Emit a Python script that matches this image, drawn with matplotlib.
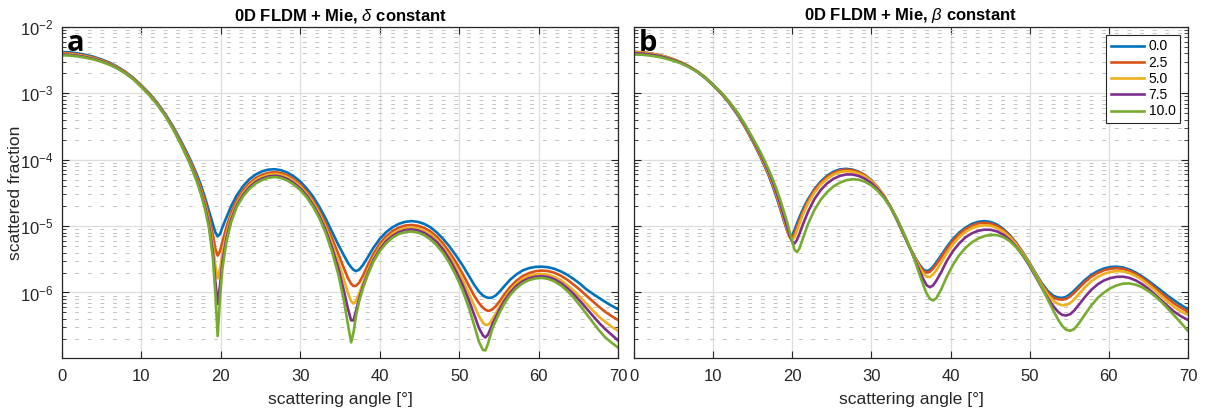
import matplotlib
matplotlib.use('Agg')
import matplotlib.pyplot as plt
from matplotlib.ticker import LogLocator, FixedLocator, LogFormatterMathtext, NullFormatter

plt.rcParams['font.family'] = ['Liberation Sans', 'DejaVu Sans']
plt.rcParams['mathtext.fontset'] = 'custom'
plt.rcParams['mathtext.rm'] = 'Liberation Sans'
plt.rcParams['mathtext.it'] = 'Liberation Sans:italic'
plt.rcParams['mathtext.bf'] = 'Liberation Sans:bold'

# legend labels and colours (MATLAB defaults)
labels = ['0.0', '2.5', '5.0', '7.5', '10.0']
colors = ['#0072BD', '#D95319', '#EDB120', '#7E2F8E', '#77AC30']

# ---- panel a: delta constant ----
ang_a = [0, 1, 2, 3, 4, 5, 6, 7, 8, 9,
         10, 11, 12, 13, 14, 15, 16, 16.5, 17, 17.5,
         18, 18.5, 19.0, 19.3, 19.6, 19.9, 20.2, 20.7, 21.3, 22.0,
         22.8, 23.6, 24.4, 25.2, 26.0, 26.8, 27.6, 28.4, 29.2, 30.0,
         30.8, 31.6, 32.4, 33.2, 34.0, 34.8, 35.5, 36.0, 36.4, 36.7,
         37.0, 37.4, 37.9, 38.5, 39.2, 40.0, 40.8, 41.6, 42.4, 43.2,
         44.0, 44.8, 45.6, 46.4, 47.2, 48.0, 48.8, 49.6, 50.4, 51.2,
         51.9, 52.5, 53.0, 53.3, 53.6, 53.9, 54.2, 54.6, 55.1, 55.7,
         56.4, 57.2, 58.0, 58.8, 59.6, 60.4, 61.2, 62.0, 62.8, 63.6,
         64.4, 65.2, 66.0, 66.8, 67.6, 68.4, 69.2, 70.0]

a_00 = [4.2e-3, 4.15e-3, 4.0e-3, 3.8e-3, 3.55e-3, 3.24e-3, 2.9e-3, 2.51e-3, 2.11e-3, 1.7e-3,
        1.32e-3, 1.0e-3, 7.2e-4, 4.9e-4, 3.15e-4, 1.9e-4, 1.1e-4, 8.1e-5, 5.9e-5, 4.1e-5,
        2.7e-5, 1.7e-5, 1.07e-5, 8.1e-6, 7.0e-6, 7.6e-6, 9.6e-6, 1.35e-5, 2.0e-5, 2.9e-5,
        4.0e-5, 5.1e-5, 6.0e-5, 6.7e-5, 7.1e-5, 7.2e-5, 6.95e-5, 6.4e-5, 5.6e-5, 4.7e-5,
        3.7e-5, 2.8e-5, 1.95e-5, 1.3e-5, 8.2e-6, 5.2e-6, 3.6e-6, 2.8e-6, 2.4e-6, 2.2e-6,
        2.1e-6, 2.2e-6, 2.6e-6, 3.4e-6, 4.7e-6, 6.4e-6, 8.1e-6, 9.6e-6, 1.08e-5, 1.16e-5,
        1.19e-5, 1.16e-5, 1.08e-5, 9.6e-6, 8.0e-6, 6.4e-6, 4.9e-6, 3.6e-6, 2.6e-6, 1.8e-6,
        1.3e-6, 1.03e-6, 9.0e-7, 8.6e-7, 8.35e-7, 8.3e-7, 8.45e-7, 9.0e-7, 1.03e-6, 1.25e-6,
        1.55e-6, 1.87e-6, 2.15e-6, 2.33e-6, 2.43e-6, 2.45e-6, 2.4e-6, 2.27e-6, 2.08e-6, 1.85e-6,
        1.6e-6, 1.36e-6, 1.12e-6, 9.6e-7, 8.3e-7, 7.2e-7, 6.3e-7, 5.6e-7]
a_25 = [4.05e-3, 4.0e-3, 3.87e-3, 3.68e-3, 3.45e-3, 3.16e-3, 2.84e-3, 2.47e-3, 2.08e-3, 1.68e-3,
        1.3e-3, 9.8e-4, 7.05e-4, 4.8e-4, 3.05e-4, 1.82e-4, 1.04e-4, 7.6e-5, 5.4e-5, 3.7e-5,
        2.4e-5, 1.42e-5, 7.3e-6, 4.6e-6, 3.6e-6, 4.2e-6, 5.8e-6, 9.6e-6, 1.6e-5, 2.45e-5,
        3.45e-5, 4.45e-5, 5.3e-5, 5.95e-5, 6.35e-5, 6.5e-5, 6.3e-5, 5.8e-5, 5.05e-5, 4.2e-5,
        3.3e-5, 2.45e-5, 1.68e-5, 1.08e-5, 6.5e-6, 3.8e-6, 2.3e-6, 1.65e-6, 1.35e-6, 1.25e-6,
        1.26e-6, 1.4e-6, 1.8e-6, 2.6e-6, 3.8e-6, 5.4e-6, 7.0e-6, 8.4e-6, 9.5e-6, 1.02e-5,
        1.04e-5, 1.01e-5, 9.4e-6, 8.3e-6, 6.9e-6, 5.4e-6, 4.0e-6, 2.85e-6, 1.95e-6, 1.28e-6,
        8.9e-7, 6.9e-7, 5.9e-7, 5.5e-7, 5.3e-7, 5.35e-7, 5.6e-7, 6.2e-7, 7.4e-7, 9.4e-7,
        1.2e-6, 1.5e-6, 1.77e-6, 1.96e-6, 2.09e-6, 2.14e-6, 2.1e-6, 1.98e-6, 1.79e-6, 1.56e-6,
        1.32e-6, 1.1e-6, 9.0e-7, 7.4e-7, 6.1e-7, 5.1e-7, 4.4e-7, 3.85e-7]
a_50 = [3.95e-3, 3.9e-3, 3.78e-3, 3.6e-3, 3.38e-3, 3.1e-3, 2.79e-3, 2.44e-3, 2.05e-3, 1.66e-3,
        1.28e-3, 9.65e-4, 6.95e-4, 4.72e-4, 2.98e-4, 1.76e-4, 9.9e-5, 7.2e-5, 5.1e-5, 3.4e-5,
        2.15e-5, 1.2e-5, 5.2e-6, 2.6e-6, 1.63e-6, 2.3e-6, 3.9e-6, 7.6e-6, 1.38e-5, 2.2e-5,
        3.15e-5, 4.1e-5, 4.95e-5, 5.55e-5, 5.95e-5, 6.1e-5, 5.9e-5, 5.45e-5, 4.75e-5, 3.95e-5,
        3.1e-5, 2.28e-5, 1.55e-5, 9.6e-6, 5.4e-6, 2.9e-6, 1.55e-6, 9.8e-7, 7.4e-7, 6.8e-7,
        7.4e-7, 9.6e-7, 1.4e-6, 2.15e-6, 3.3e-6, 4.8e-6, 6.3e-6, 7.6e-6, 8.6e-6, 9.3e-6,
        9.5e-6, 9.2e-6, 8.5e-6, 7.5e-6, 6.2e-6, 4.8e-6, 3.5e-6, 2.4e-6, 1.58e-6, 9.8e-7,
        6.3e-7, 4.4e-7, 3.5e-7, 3.25e-7, 3.25e-7, 3.5e-7, 4.0e-7, 4.8e-7, 6.2e-7, 8.2e-7,
        1.07e-6, 1.35e-6, 1.6e-6, 1.77e-6, 1.87e-6, 1.9e-6, 1.85e-6, 1.72e-6, 1.53e-6, 1.3e-6,
        1.07e-6, 8.6e-7, 6.8e-7, 5.4e-7, 4.3e-7, 3.6e-7, 3.05e-7, 2.65e-7]
a_75 = [3.85e-3, 3.8e-3, 3.69e-3, 3.52e-3, 3.31e-3, 3.04e-3, 2.74e-3, 2.4e-3, 2.02e-3, 1.64e-3,
        1.26e-3, 9.5e-4, 6.85e-4, 4.65e-4, 2.93e-4, 1.72e-4, 9.6e-5, 6.9e-5, 4.85e-5, 3.2e-5,
        1.98e-5, 1.06e-5, 4.0e-6, 1.5e-6, 6.7e-7, 1.3e-6, 2.9e-6, 6.5e-6, 1.25e-5, 2.05e-5,
        2.95e-5, 3.85e-5, 4.65e-5, 5.2e-5, 5.6e-5, 5.75e-5, 5.55e-5, 5.1e-5, 4.45e-5, 3.7e-5,
        2.9e-5, 2.1e-5, 1.42e-5, 8.7e-6, 4.7e-6, 2.3e-6, 1.05e-6, 5.7e-7, 3.8e-7, 3.8e-7,
        5.2e-7, 8.0e-7, 1.25e-6, 1.95e-6, 3.05e-6, 4.45e-6, 5.9e-6, 7.1e-6, 8.1e-6, 8.7e-6,
        8.9e-6, 8.6e-6, 7.9e-6, 6.9e-6, 5.7e-6, 4.4e-6, 3.15e-6, 2.1e-6, 1.33e-6, 7.8e-7,
        4.6e-7, 2.9e-7, 2.25e-7, 2.1e-7, 2.3e-7, 2.75e-7, 3.4e-7, 4.2e-7, 5.6e-7, 7.5e-7,
        9.9e-7, 1.25e-6, 1.48e-6, 1.64e-6, 1.73e-6, 1.76e-6, 1.71e-6, 1.58e-6, 1.39e-6, 1.17e-6,
        9.5e-7, 7.5e-7, 5.8e-7, 4.5e-7, 3.5e-7, 2.8e-7, 2.3e-7, 1.9e-7]
a_100 = [3.75e-3, 3.71e-3, 3.6e-3, 3.44e-3, 3.24e-3, 2.98e-3, 2.69e-3, 2.36e-3, 1.99e-3, 1.62e-3,
         1.24e-3, 9.4e-4, 6.75e-4, 4.58e-4, 2.88e-4, 1.68e-4, 9.3e-5, 6.6e-5, 4.6e-5, 3.0e-5,
         1.83e-5, 9.5e-6, 3.3e-6, 1.0e-6, 2.2e-7, 8.5e-7, 2.3e-6, 5.8e-6, 1.15e-5, 1.95e-5,
         2.8e-5, 3.65e-5, 4.4e-5, 4.95e-5, 5.35e-5, 5.5e-5, 5.3e-5, 4.85e-5, 4.2e-5, 3.5e-5,
         2.72e-5, 1.97e-5, 1.32e-5, 7.9e-6, 4.1e-6, 1.85e-6, 7.5e-7, 3.3e-7, 1.77e-7, 2.5e-7,
         4.3e-7, 7.3e-7, 1.17e-6, 1.85e-6, 2.9e-6, 4.2e-6, 5.5e-6, 6.7e-6, 7.6e-6, 8.15e-6,
         8.3e-6, 8.0e-6, 7.3e-6, 6.3e-6, 5.1e-6, 3.9e-6, 2.75e-6, 1.8e-6, 1.1e-6, 6.0e-7,
         3.2e-7, 1.8e-7, 1.36e-7, 1.34e-7, 1.65e-7, 2.2e-7, 2.9e-7, 3.7e-7, 5.0e-7, 6.8e-7,
         9.1e-7, 1.16e-6, 1.38e-6, 1.54e-6, 1.63e-6, 1.66e-6, 1.6e-6, 1.47e-6, 1.28e-6, 1.06e-6,
         8.4e-7, 6.4e-7, 4.8e-7, 3.6e-7, 2.7e-7, 2.1e-7, 1.75e-7, 1.48e-7]

# ---- panel b: beta constant ----
ang_b = [0, 1, 2, 3, 4, 5, 6, 7, 8, 9,
         10, 11, 12, 13, 14, 15, 16, 16.5, 17, 17.5,
         18, 18.5, 19.0, 19.4, 19.7, 20.0, 20.3, 20.6, 20.9, 21.4,
         22.0, 22.8, 23.6, 24.4, 25.2, 26.0, 26.8, 27.6, 28.4, 29.2,
         30.0, 30.8, 31.6, 32.4, 33.2, 34.0, 34.8, 35.5, 36.1, 36.6,
         37.0, 37.4, 37.8, 38.2, 38.8, 39.5, 40.3, 41.1, 41.9, 42.7,
         43.5, 44.3, 45.1, 45.9, 46.7, 47.5, 48.3, 49.1, 49.9, 50.7,
         51.5, 52.3, 53.0, 53.6, 54.1, 54.6, 55.1, 55.6, 56.2, 57.0,
         57.8, 58.6, 59.4, 60.2, 61.0, 61.8, 62.6, 63.4, 64.2, 65.0,
         65.8, 66.6, 67.4, 68.2, 69.1, 70.0]

b_00 = [4.2e-3, 4.15e-3, 4.0e-3, 3.8e-3, 3.55e-3, 3.24e-3, 2.9e-3, 2.51e-3, 2.11e-3, 1.7e-3,
        1.32e-3, 1.0e-3, 7.2e-4, 4.9e-4, 3.15e-4, 1.9e-4, 1.1e-4, 8.1e-5, 5.9e-5, 4.1e-5,
        2.75e-5, 1.8e-5, 1.15e-5, 8.3e-6, 7.0e-6, 7.3e-6, 8.8e-6, 1.1e-5, 1.35e-5, 1.85e-5,
        2.55e-5, 3.6e-5, 4.7e-5, 5.75e-5, 6.6e-5, 7.15e-5, 7.3e-5, 7.1e-5, 6.6e-5, 5.85e-5,
        4.9e-5, 3.85e-5, 2.85e-5, 1.95e-5, 1.26e-5, 7.8e-6, 4.9e-6, 3.4e-6, 2.6e-6, 2.2e-6,
        2.1e-6, 2.2e-6, 2.45e-6, 2.85e-6, 3.6e-6, 4.8e-6, 6.4e-6, 8.0e-6, 9.5e-6, 1.08e-5,
        1.16e-5, 1.19e-5, 1.15e-5, 1.05e-5, 9.0e-6, 7.3e-6, 5.6e-6, 4.1e-6, 2.9e-6, 2.0e-6,
        1.4e-6, 1.05e-6, 8.9e-7, 8.4e-7, 8.3e-7, 8.6e-7, 9.4e-7, 1.06e-6, 1.25e-6, 1.55e-6,
        1.85e-6, 2.1e-6, 2.3e-6, 2.42e-6, 2.45e-6, 2.38e-6, 2.22e-6, 2.0e-6, 1.75e-6, 1.5e-6,
        1.27e-6, 1.07e-6, 9.0e-7, 7.7e-7, 6.5e-7, 5.6e-7]
b_25 = [4.2e-3, 4.16e-3, 4.02e-3, 3.82e-3, 3.57e-3, 3.26e-3, 2.92e-3, 2.53e-3, 2.13e-3, 1.72e-3,
        1.33e-3, 1.01e-3, 7.3e-4, 5.0e-4, 3.2e-4, 1.94e-4, 1.13e-4, 8.4e-5, 6.1e-5, 4.3e-5,
        2.9e-5, 1.88e-5, 1.18e-5, 8.3e-6, 6.8e-6, 6.7e-6, 7.8e-6, 9.8e-6, 1.22e-5, 1.7e-5,
        2.4e-5, 3.45e-5, 4.5e-5, 5.5e-5, 6.35e-5, 6.9e-5, 7.1e-5, 6.95e-5, 6.5e-5, 5.8e-5,
        4.85e-5, 3.85e-5, 2.85e-5, 1.96e-5, 1.27e-5, 7.9e-6, 4.9e-6, 3.35e-6, 2.5e-6, 2.1e-6,
        2.0e-6, 2.05e-6, 2.3e-6, 2.65e-6, 3.35e-6, 4.5e-6, 6.0e-6, 7.6e-6, 9.0e-6, 1.02e-5,
        1.1e-5, 1.12e-5, 1.09e-5, 1.0e-5, 8.7e-6, 7.1e-6, 5.5e-6, 4.0e-6, 2.85e-6, 1.95e-6,
        1.35e-6, 9.9e-7, 8.3e-7, 7.9e-7, 7.8e-7, 8.0e-7, 8.7e-7, 9.8e-7, 1.16e-6, 1.44e-6,
        1.73e-6, 1.97e-6, 2.16e-6, 2.28e-6, 2.32e-6, 2.27e-6, 2.12e-6, 1.9e-6, 1.66e-6, 1.41e-6,
        1.18e-6, 9.8e-7, 8.2e-7, 6.9e-7, 5.9e-7, 5.1e-7]
b_50 = [4.15e-3, 4.11e-3, 3.98e-3, 3.79e-3, 3.54e-3, 3.24e-3, 2.91e-3, 2.53e-3, 2.14e-3, 1.73e-3,
        1.34e-3, 1.02e-3, 7.4e-4, 5.1e-4, 3.27e-4, 1.99e-4, 1.17e-4, 8.7e-5, 6.4e-5, 4.55e-5,
        3.1e-5, 2.0e-5, 1.25e-5, 8.6e-6, 6.8e-6, 6.2e-6, 6.8e-6, 8.5e-6, 1.07e-5, 1.55e-5,
        2.2e-5, 3.2e-5, 4.2e-5, 5.15e-5, 5.95e-5, 6.5e-5, 6.7e-5, 6.6e-5, 6.2e-5, 5.6e-5,
        4.75e-5, 3.8e-5, 2.85e-5, 1.98e-5, 1.29e-5, 8.0e-6, 4.9e-6, 3.25e-6, 2.35e-6, 1.9e-6,
        1.73e-6, 1.72e-6, 1.88e-6, 2.15e-6, 2.8e-6, 3.85e-6, 5.3e-6, 6.8e-6, 8.2e-6, 9.3e-6,
        1.0e-5, 1.03e-5, 1.01e-5, 9.3e-6, 8.2e-6, 6.8e-6, 5.3e-6, 3.9e-6, 2.8e-6, 1.92e-6,
        1.3e-6, 9.2e-7, 7.5e-7, 6.7e-7, 6.45e-7, 6.45e-7, 6.9e-7, 7.8e-7, 9.4e-7, 1.2e-6,
        1.48e-6, 1.72e-6, 1.91e-6, 2.04e-6, 2.1e-6, 2.07e-6, 1.96e-6, 1.77e-6, 1.55e-6, 1.31e-6,
        1.09e-6, 8.9e-7, 7.3e-7, 6.1e-7, 5.2e-7, 4.6e-7]
b_75 = [4.02e-3, 3.98e-3, 3.86e-3, 3.69e-3, 3.46e-3, 3.18e-3, 2.87e-3, 2.51e-3, 2.13e-3, 1.74e-3,
        1.35e-3, 1.03e-3, 7.5e-4, 5.2e-4, 3.35e-4, 2.05e-4, 1.22e-4, 9.1e-5, 6.7e-5, 4.8e-5,
        3.3e-5, 2.15e-5, 1.35e-5, 9.3e-6, 7.0e-6, 5.8e-6, 5.5e-6, 6.2e-6, 7.6e-6, 1.1e-5,
        1.65e-5, 2.55e-5, 3.5e-5, 4.4e-5, 5.15e-5, 5.7e-5, 6.0e-5, 6.0e-5, 5.7e-5, 5.15e-5,
        4.45e-5, 3.6e-5, 2.75e-5, 1.95e-5, 1.3e-5, 8.1e-6, 4.9e-6, 3.1e-6, 2.1e-6, 1.55e-6,
        1.28e-6, 1.2e-6, 1.28e-6, 1.5e-6, 2.0e-6, 2.95e-6, 4.2e-6, 5.5e-6, 6.8e-6, 7.8e-6,
        8.5e-6, 8.85e-6, 8.8e-6, 8.3e-6, 7.4e-6, 6.2e-6, 4.9e-6, 3.65e-6, 2.6e-6, 1.78e-6,
        1.2e-6, 8.2e-7, 6.2e-7, 5.1e-7, 4.6e-7, 4.5e-7, 4.7e-7, 5.3e-7, 6.5e-7, 8.6e-7,
        1.1e-6, 1.33e-6, 1.52e-6, 1.65e-6, 1.72e-6, 1.73e-6, 1.66e-6, 1.52e-6, 1.34e-6, 1.14e-6,
        9.4e-7, 7.7e-7, 6.3e-7, 5.2e-7, 4.4e-7, 3.85e-7]
b_100 = [3.85e-3, 3.82e-3, 3.71e-3, 3.56e-3, 3.35e-3, 3.1e-3, 2.81e-3, 2.47e-3, 2.11e-3, 1.73e-3,
         1.35e-3, 1.04e-3, 7.6e-4, 5.3e-4, 3.45e-4, 2.13e-4, 1.29e-4, 9.7e-5, 7.2e-5, 5.2e-5,
         3.65e-5, 2.45e-5, 1.58e-5, 1.1e-5, 8.0e-6, 5.8e-6, 4.4e-6, 4.05e-6, 4.6e-6, 6.8e-6,
         1.08e-5, 1.75e-5, 2.5e-5, 3.25e-5, 3.95e-5, 4.5e-5, 4.9e-5, 5.1e-5, 5.0e-5, 4.65e-5,
         4.1e-5, 3.4e-5, 2.65e-5, 1.93e-5, 1.32e-5, 8.3e-6, 5.0e-6, 3.0e-6, 1.85e-6, 1.25e-6,
         9.6e-7, 8.0e-7, 7.6e-7, 8.2e-7, 1.1e-6, 1.7e-6, 2.6e-6, 3.65e-6, 4.7e-6, 5.7e-6,
         6.5e-6, 7.1e-6, 7.4e-6, 7.3e-6, 6.8e-6, 5.9e-6, 4.8e-6, 3.7e-6, 2.7e-6, 1.85e-6,
         1.22e-6, 7.8e-7, 5.3e-7, 3.9e-7, 3.15e-7, 2.75e-7, 2.65e-7, 2.8e-7, 3.4e-7, 4.7e-7,
         6.4e-7, 8.3e-7, 1.0e-6, 1.16e-6, 1.28e-6, 1.36e-6, 1.37e-6, 1.31e-6, 1.2e-6, 1.05e-6,
         8.9e-7, 7.3e-7, 5.8e-7, 4.6e-7, 3.5e-7, 2.65e-7]

x_ticks = [0, 10, 20, 30, 40, 50, 60, 70]
y_ticks = [1e-6, 1e-5, 1e-4, 1e-3, 1e-2]

fig = plt.figure(figsize=(12.08, 4.16), dpi=100)
ax_a = fig.add_axes([0.0513, 0.1394, 0.4603, 0.7957])
ax_b = fig.add_axes([0.5248, 0.1394, 0.4586, 0.7957])

panels = [
    (ax_a, ang_a, [a_00, a_25, a_50, a_75, a_100], r'0D FLDM + Mie, $\delta$ constant', 'a'),
    (ax_b, ang_b, [b_00, b_25, b_50, b_75, b_100], r'0D FLDM + Mie, $\beta$ constant', 'b'),
]

for ax, ang, series, title, letter in panels:
    for vals, lab, col in zip(series, labels, colors):
        ax.plot(ang, vals, color=col, lw=1.9, label=lab, solid_joinstyle='round')
    ax.set_yscale('log')
    ax.set_xlim(0, 70)
    ax.set_ylim(1.03e-7, 1e-2)
    ax.xaxis.set_major_locator(FixedLocator(x_ticks))
    ax.yaxis.set_major_locator(FixedLocator(y_ticks))
    ax.yaxis.set_major_formatter(LogFormatterMathtext())
    ax.yaxis.set_minor_locator(LogLocator(base=10, subs=range(2, 10), numticks=20))
    ax.yaxis.set_minor_formatter(NullFormatter())
    ax.grid(True, which='major', color='#dedede', lw=0.9, ls='-')
    ax.grid(True, which='minor', axis='y', color='#c4c4c4', lw=0.7, dashes=(4, 9))
    ax.set_axisbelow(True)
    ax.tick_params(which='both', direction='in', top=True, right=True,
                   labelsize=12, colors='#262626', pad=6)
    ax.tick_params(axis='x', which='major', pad=8)
    ax.tick_params(which='major', length=5, width=0.8)
    ax.tick_params(which='minor', length=2.8, width=0.6)
    for sp in ax.spines.values():
        sp.set_color('#262626')
        sp.set_linewidth(0.9)
    ax.set_title(title, fontsize=12, fontweight='bold', pad=5)
    ax.set_xlabel('scattering angle [°]', fontsize=12.6, color='#262626', labelpad=6)
    ax.text(0.008, 0.995, letter, transform=ax.transAxes, fontsize=21,
            fontweight='bold', family=['Open Sans', 'DejaVu Sans'], va='top', ha='left')

ax_a.set_ylabel('scattered fraction', fontsize=12.6, color='#262626', labelpad=-2)
ax_b.tick_params(axis='y', which='both', labelleft=False)

leg = ax_b.legend(loc='upper right', fontsize=10, handlelength=2.35, handletextpad=0.35,
                  borderpad=0.35, labelspacing=0.16, fancybox=False, framealpha=1,
                  borderaxespad=0.55)
leg.get_frame().set_edgecolor('#262626')
leg.get_frame().set_linewidth(0.8)

fig.savefig('out.png', dpi=100)
